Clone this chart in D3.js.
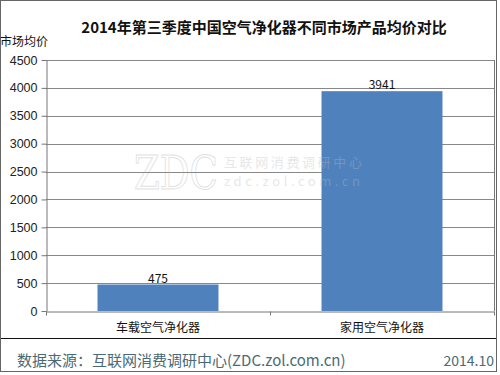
<!DOCTYPE html>
<html>
<head>
<meta charset="utf-8">
<script src="https://cdn.jsdelivr.net/npm/d3@7"></script>
<style>
  body { margin: 0; background: #fff; }
  text { font-family: "Noto Sans CJK SC", "Noto Sans", sans-serif; }
</style>
</head>
<body>
<div id="viz"></div>
<script>
// Data.
var categories = ["车载空气净化器", "家用空气净化器"];
var prices = [475, 3941];
var yTicks = [0, 500, 1000, 1500, 2000, 2500, 3000, 3500, 4000, 4500];

var W = 500, H = 375;
var plotLeft = 46, plotRight = 494, plotTop = 60, plotBottom = 311;

var svg = d3.select("#viz")
	.append("svg")
	.attr("width", W)
	.attr("height", H);

var x = d3.scaleBand()
	.domain(categories)
	.range([plotLeft, plotRight])
	.paddingInner(0.46)
	.paddingOuter(0.23);

var y = d3.scaleLinear()
	.domain([0, 4500])
	.range([plotBottom, plotTop]);

// Outer frame.
svg.append("rect")
	.attr("x", 0.5).attr("y", 0.5)
	.attr("width", 496).attr("height", 371)
	.style("fill", "none")
	.style("stroke", "#666");

// Title.
svg.append("text")
	.attr("x", 264).attr("y", 33)
	.attr("text-anchor", "middle")
	.style("font-size", "15px")
	.style("font-weight", "bold")
	.style("fill", "#111")
	.text("2014年第三季度中国空气净化器不同市场产品均价对比");

// Gridlines.
svg.append("g")
	.selectAll("line")
	.data(yTicks.filter(function (d) { return d > 0; }))
	.enter().append("line")
	.attr("x1", plotLeft).attr("x2", plotRight)
	.attr("y1", function (d) { return Math.round(y(d)) + 0.5; })
	.attr("y2", function (d) { return Math.round(y(d)) + 0.5; })
	.style("stroke", "#888");

// Plot right border.
svg.append("line")
	.attr("x1", plotRight + 0.5).attr("x2", plotRight + 0.5)
	.attr("y1", plotTop).attr("y2", plotBottom)
	.style("stroke", "#777");

// Bars.
svg.append("g")
	.selectAll("rect")
	.data(prices)
	.enter().append("rect")
	.attr("x", function (d, i) { return x(categories[i]); })
	.attr("y", function (d) { return y(d); })
	.attr("width", x.bandwidth())
	.attr("height", function (d) { return plotBottom - y(d); })
	.style("fill", "#4f81bd");

// Value labels.
svg.append("g")
	.selectAll("text")
	.data(prices)
	.enter().append("text")
	.attr("x", function (d, i) { return x(categories[i]) + x.bandwidth() / 2; })
	.attr("y", function (d) { return y(d) - 2; })
	.attr("text-anchor", "middle")
	.style("font-size", "12px")
	.style("fill", "#111")
	.text(function (d) { return d; });

// Y axis.
var yAxis = svg.append("g")
	.attr("transform", "translate(" + (plotLeft + 0.5) + ",0)")
	.call(d3.axisLeft(y).tickValues(yTicks).tickFormat(d3.format("d"))
		.tickSize(5).tickPadding(4).tickSizeOuter(0));
yAxis.select(".domain").style("stroke", "#777");
yAxis.selectAll(".tick line").style("stroke", "#777");
yAxis.selectAll(".tick text")
	.style("font-size", "12.5px")
	.style("fill", "#222")
	.style("font-family", "'Liberation Sans', sans-serif");

// X axis.
var xAxis = svg.append("g")
	.attr("transform", "translate(0," + (plotBottom + 0.5) + ")")
	.call(d3.axisBottom(x).tickSize(0).tickPadding(12));
xAxis.select(".domain").style("stroke", "#777");
xAxis.selectAll(".tick text")
	.style("font-size", "12px")
	.style("fill", "#111");
// Category dividers.
xAxis.selectAll(".divider")
	.data([plotLeft, (plotLeft + plotRight) / 2, plotRight])
	.enter().append("line")
	.attr("x1", function (d) { return Math.round(d) + 0.5; })
	.attr("x2", function (d) { return Math.round(d) + 0.5; })
	.attr("y1", 0).attr("y2", 4)
	.style("stroke", "#777");

// Y axis title.
svg.append("text")
	.attr("x", 0).attr("y", 46)
	.style("font-size", "12px")
	.style("fill", "#111")
	.text("市场均价");

// Watermark.
var wm = svg.append("g").style("opacity", 0.35);
wm.append("text")
	.attr("x", 134).attr("y", 189)
	.attr("textLength", 84)
	.attr("lengthAdjust", "spacingAndGlyphs")
	.style("font-family", "'DejaVu Serif', serif")
	.style("font-size", "46px")
	.style("fill", "none")
	.style("stroke", "#aaa")
	.style("stroke-width", 1)
	.text("ZDC");
wm.append("text")
	.attr("x", 224).attr("y", 167)
	.attr("textLength", 138)
	.style("font-size", "13px")
	.style("fill", "#bbb")
	.text("互联网消费调研中心");
wm.append("text")
	.attr("x", 224).attr("y", 186)
	.attr("textLength", 136)
	.style("font-size", "13px")
	.style("fill", "#bbb")
	.text("zdc.zol.com.cn");

// Footer.
svg.append("line")
	.attr("x1", 1).attr("x2", 496)
	.attr("y1", 338.5).attr("y2", 338.5)
	.style("stroke", "#111");
svg.append("text")
	.attr("x", 17).attr("y", 366)
	.style("font-size", "15px")
	.style("fill", "#4a6b75")
	.text("数据来源：互联网消费调研中心(ZDC.zol.com.cn)");
svg.append("text")
	.attr("x", 494).attr("y", 366)
	.attr("text-anchor", "end")
	.style("font-size", "14px")
	.style("fill", "#4a6b75")
	.text("2014.10");
</script>
</body>
</html>
